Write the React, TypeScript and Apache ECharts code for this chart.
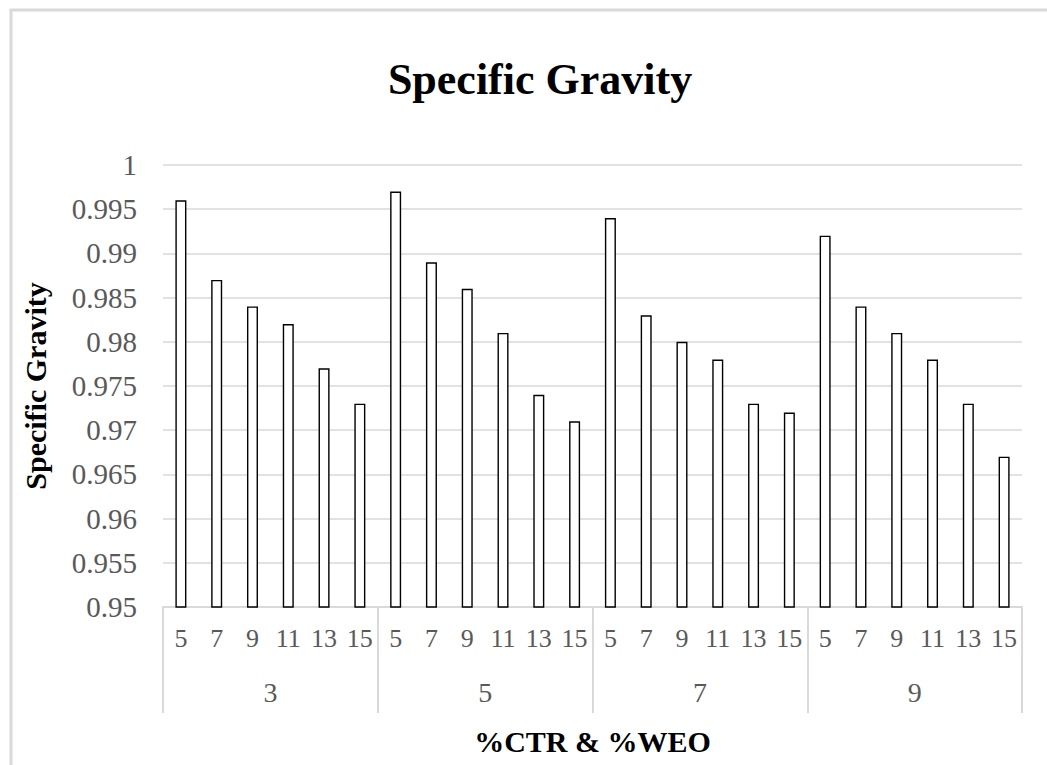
import React, { useEffect, useRef } from "react";
import * as echarts from "echarts";

const groups = ["3", "5", "7", "9"];
const subLabels = ["5", "7", "9", "11", "13", "15"];
const group3 = [0.996, 0.987, 0.984, 0.982, 0.977, 0.973];
const group5 = [0.997, 0.989, 0.986, 0.981, 0.974, 0.971];
const group7 = [0.994, 0.983, 0.98, 0.978, 0.973, 0.972];
const group9 = [0.992, 0.984, 0.981, 0.978, 0.973, 0.967];

const FONT = "'Liberation Serif', 'Times New Roman', serif";

export default function App() {
  const ref = useRef<HTMLDivElement>(null);
  useEffect(() => {
    if (!ref.current) return;
    const chart = echarts.init(ref.current, null, { renderer: "svg" });
    const cats: string[] = [];
    groups.forEach((g) => subLabels.forEach((s) => cats.push(g + "-" + s)));
    const values = [...group3, ...group5, ...group7, ...group9];
    chart.setOption({
      animation: false,
      backgroundColor: "#ffffff",
      textStyle: { fontFamily: FONT },
      title: {
        text: "Specific Gravity",
        left: 535,
        textAlign: "center",
        top: 52,
        textStyle: { fontFamily: FONT, fontSize: 44, fontWeight: "bold", color: "#000" },
      },
      graphic: [
        {
          type: "rect",
          shape: { x: 11, y: 10, width: 1100, height: 800 },
          style: { fill: "none", stroke: "#d9d9d9", lineWidth: 3 },
          silent: true,
        },
      ],
      grid: { left: 163, right: 25, top: 165, bottom: 158, outerBoundsMode: "none", containLabel: false },
      xAxis: [
        {
          type: "category",
          data: cats,
          axisLine: { show: true, lineStyle: { color: "#d9d9d9", width: 2 } },
          axisTick: { show: false },
          axisLabel: {
            interval: 0,
            margin: 18,
            fontSize: 26,
            color: "#595959",
            fontFamily: FONT,
            formatter: (v: string) => v.split("-")[1],
          },
        },
        {
          type: "category",
          position: "bottom",
          data: groups,
          axisLine: { show: false },
          axisTick: {
            show: true,
            interval: 0,
            length: 106,
            inside: false,
            lineStyle: { color: "#d9d9d9", width: 2 },
          },
          axisLabel: { interval: 0, margin: 71, fontSize: 28, color: "#595959", fontFamily: FONT },
          name: "%CTR & %WEO",
          nameLocation: "middle",
          nameGap: 119,
          nameTextStyle: { fontFamily: FONT, fontSize: 30, fontWeight: "bold", color: "#000" },
        },
      ],
      yAxis: {
        type: "value",
        min: 0.95,
        max: 1,
        interval: 0.005,
        axisLine: { show: false },
        axisTick: { show: false },
        splitLine: { show: true, lineStyle: { color: "#d9d9d9", width: 1.5 } },
        axisLabel: {
          margin: 26,
          fontSize: 29,
          color: "#595959",
          fontFamily: FONT,
          formatter: (v: number) => String(+v.toFixed(3)),
        },
        name: "Specific Gravity",
        nameLocation: "middle",
        nameGap: 113,
        nameRotate: 90,
        nameTextStyle: { fontFamily: FONT, fontSize: 30, fontWeight: "bold", color: "#000" },
      },
      series: [
        {
          type: "bar",
          xAxisIndex: 0,
          data: values,
          barWidth: 11,
          itemStyle: { color: "#ffffff", borderColor: "#000000", borderWidth: 1.4 },
        },
      ],
    });
    return () => chart.dispose();
  }, []);
  return (
    <div
      ref={ref}
      style={{ position: "fixed", left: 0, top: 0, width: 1047, height: 765 }}
    />
  );
}
